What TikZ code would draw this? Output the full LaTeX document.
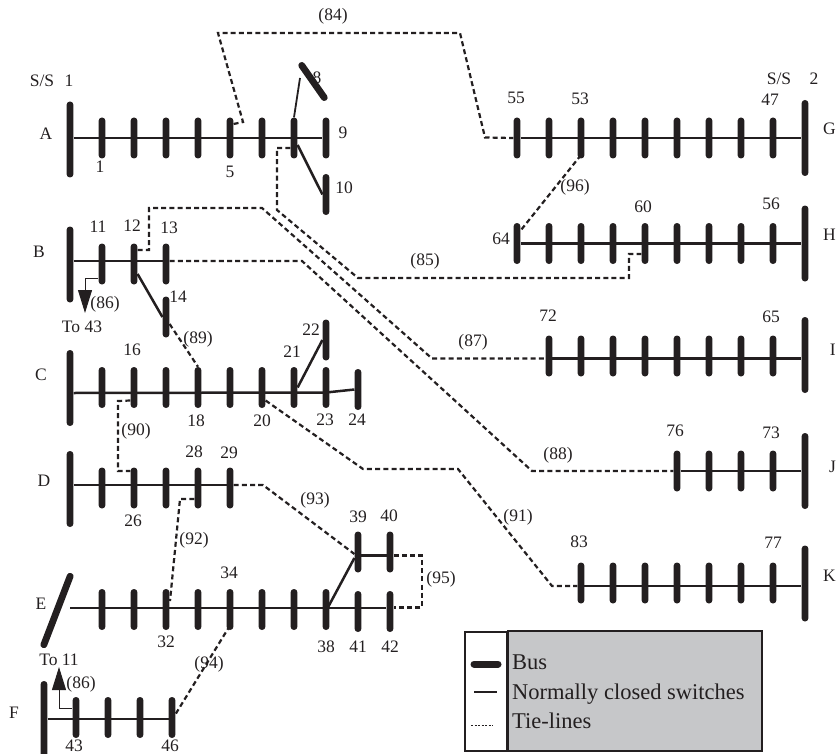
\documentclass[tikz,border=0pt]{standalone}
\usepackage{fontspec}
\setmainfont{Liberation Serif}
\usetikzlibrary{arrows.meta}
\definecolor{ink}{HTML}{231F20}
\definecolor{legendgrey}{HTML}{C6C7C9}
\begin{document}
\begin{tikzpicture}[x=1pt,y=-1pt,
  tick/.style={rectangle,fill=ink,inner sep=0pt,minimum width=6.8pt,minimum height=41pt,rounded corners=3.3pt},
  mainbus/.style={tick,minimum height=76pt},
  sw/.style={draw=ink,line width=2.5pt},
  tie/.style={draw=ink,line width=2.2pt,dash pattern=on 5pt off 3.2pt},
  lab/.style={text=ink,inner sep=0pt,font=\fontsize{17.5pt}{20pt}\selectfont},
  legtext/.style={text=ink,inner sep=0pt,anchor=base west,font=\fontsize{22.5pt}{26pt}\selectfont}]
\useasboundingbox (0,0) rectangle (837,754);

\foreach \f/\x/\y in {A/70/139.5,B/70/264.5,C/70/388,D/70/489,G/805/138,H/805/243.5,I/805/355,J/805/471,K/805/583.5,F/44/719}
  \node[mainbus] (m\f) at (\x,\y) {};
\node[mainbus,rotate=-21,minimum height=80pt] (mE) at (57,610.5) {};
\foreach \y/\list in {138/{1/102,2/134,3/166,4/198,5/230,6/262,7/294,9/326},
    138/{55/517,54/549,53/581,52/613,51/645,50/677,49/709,48/741,47/773},
    243.5/{64/517,63/549,62/581,61/613,60/645,59/677,58/709,57/741,56/773},
    356/{72/549,71/581,70/613,69/645,68/677,67/709,66/741,65/773},
    471/{76/677,75/709,74/741,73/773},
    583/{83/581,82/613,81/645,80/677,79/709,78/741,77/773},
    264/{11/102,12/134,13/166},
    387.5/{15/102,16/134,17/166,18/198,19/230,20/262,21/294,23/326},
    488/{25/102,26/134,27/166,28/198,29/230},
    609.5/{30/102,31/134,32/166,33/198,34/230,35/262,36/294,38/326},
    717.5/{43/76,44/108,45/140,46/172},
    194.5/{10/326}, 317/{14/166}, 340/{22/326}, 389.5/{24/358},
    552/{39/358,40/390}, 611.5/{41/358,42/390}}
  \foreach \n/\x in \list \node[tick] (n\n) at (\x,\y) {};
\node[tick,rotate=35,minimum height=46pt] (n8) at (313,81.5) {};
\coordinate (c8) at (300,78);

\draw[sw] (mA.east |- n1) -- (n9);
\draw[sw] (n55) -- (mG.west);
\draw[sw] (n64) -- (mH.west);
\draw[sw] ([yshift=-2.5pt]n72.center) -- ([yshift=-2.5pt]mI.west |- n72);
\draw[sw] (n76) -- (mJ.west);
\draw[sw] ([yshift=-3pt]n83.center) -- ([yshift=-3pt]mK.west |- n83);
\draw[sw] ([yshift=3pt]mB.east |- n11) -- ([yshift=3pt]n13.center);
\draw[sw] ([yshift=-5pt]mC.east) -- ([yshift=-5pt]n23.center) -- (n24.west);
\draw[sw] ([yshift=3pt]mD.east |- n25) -- ([yshift=3pt]n29.center);
\draw[sw] (70,608) -- (n42.west |- 0,608);
\draw[sw] (mF.east) -- ([yshift=-1.5pt]n46.center);
\draw[sw,line width=1.8pt] (n7.north) -- (c8);
\draw[sw] ([yshift=-7pt]n7.east) -- (n10.west);
\draw[sw] ([yshift=-10pt]n12.east) -- (n14.west);
\draw[sw] (n21.east) -- (n22.west);
\draw[sw] ([yshift=-1.5pt]n38.center) -- ([yshift=-6pt]n39.west);
\draw[sw] ([yshift=-3.5pt]n39.center) -- ([yshift=-3.5pt]n40.center);

\draw[tie] ([yshift=14pt]n5.east) -- (243,122) -- (218,33) -- (460,33) -- (485,137.5) -- (n55.west);
\draw[tie] ([yshift=-10pt]n7.west) -- (277,148) -- (277,210) -- (358,278) -- (629,278) -- (629,254) -- ([yshift=-10.5pt]n60.west);
\draw[tie] ([yshift=14pt]n12.east) -- (149,250) -- (149,208) -- (262,208) -- (432,358.5) -- ([yshift=-2.5pt]n72.west);
\draw[tie] ([yshift=3pt]n13.east) -- (302,261) -- (532,471) -- (n76.west);
\draw[tie] ([yshift=-7pt]n14.east) -- (n18.north);
\draw[tie] ([yshift=-13pt]n16.west) -- (118,401) -- (118,471) -- ([yshift=17pt]n26.west);
\draw[tie] ([yshift=-13pt]n20.east) -- (363,469) -- (458,469) -- (552,586) -- ([yshift=-3pt]n83.west);
\draw[tie] ([yshift=-11pt]n28.west) -- (180,499) -- (170,601);
\draw[tie] ([yshift=3pt]n29.east) -- (263,485) -- ([yshift=-2pt]n39.west);
\draw[tie] ([yshift=-16pt]n34.center) -- ([yshift=3.5pt]n46.east);
\draw[tie] ([yshift=-3.5pt]n40.east) -- (422,555.5) -- (422,607.5) -- ([yshift=4pt]n42.east);
\draw[tie] ([yshift=-17pt]n53.center) -- ([yshift=13pt]n64.east);

\draw[draw=ink,line width=1pt,-{Triangle[length=23pt,width=14pt]}] ([yshift=-14pt]n11.west) -- (85,278) -- (85,313);
\draw[draw=ink,line width=1pt,-{Triangle[length=23pt,width=14pt]}] ([yshift=9.5pt]n43.west) -- (59,708) -- (59,667);

\foreach \t/\x/\y in {1/100/167,5/230/172,8/317/78,9/343/133,10/344/188,11/98/227,12/132/226,13/169/228,14/178/297,
    16/132/350,18/196/421,20/262/421,21/292/352,22/311/330,23/325/420,24/357/420,26/133/521,28/194/452,29/229/453,
    32/166/642,34/229/573,38/326/647,39/358/517,40/389/516,41/358/647,42/390/647,43/74/746,46/170/746,
    47/770/100,53/580/99,55/516/98,56/771/204,60/643/207,64/501/239,65/771/317,72/548/316,73/771/433,76/675/431,77/773/543,83/579/542}
  \node[lab] (lab\t) at (\x,\y) {\t};
\foreach \t/\x/\y in {84/333/16,85/425/261,87/473/342,88/558/455,89/198/339,90/136/431,91/518/517,92/194/540,93/315/500,94/209/664,95/441/579,96/575/187}
  \node[lab] (tie\t) at (\x,\y) {(\t)};
\foreach \f/\x/\y in {A/46/134,B/39/252,C/41/375,D/44/481,E/41/604,F/14/713}
  \node[lab] (name\f) at (\x,\y) {\f};
\foreach \f/\x/\y in {G/836/129,H/836/235,I/836/350,J/836/467,K/836/576}
  \node[lab,anchor=east] (name\f) at (\x,\y) {\f};
\node[lab] (ssone) at (42,81) {S/S};
\node[lab] (ssonenum) at (69,81) {1};
\node[lab] (sstwo) at (779,79) {S/S};
\node[lab] (sstwonum) at (814,79) {2};
\node[lab] (tieb) at (105,304) {(86)};
\node[lab] (tief) at (81,684) {(86)};
\node[lab] (toforty) at (82,327) {To 43};
\node[lab] (toeleven) at (59,660) {To 11};

\draw[draw=ink,line width=1.3pt] (465,632) rectangle (507,751);
\draw[draw=ink,fill=legendgrey,line width=1.3pt] (508,631) rectangle (762,751);
\coordinate (keybusa) at (474,664); \coordinate (keybusb) at (498,664);
\coordinate (keyswa) at (474,692); \coordinate (keyswb) at (497,692);
\coordinate (keytiea) at (471,725); \coordinate (keytieb) at (493,725);
\draw[draw=ink,line width=7pt,line cap=round] (keybusa) -- (keybusb);
\draw[draw=ink,line width=1.8pt] (keyswa) -- (keyswb);
\draw[draw=ink,line width=1pt,dash pattern=on 2pt off 1.5pt] (keytiea) -- (keytieb);
\node[legtext] (legbus) at (512,669) {Bus};
\node[legtext] (legsw) at (512,699) {Normally closed switches};
\node[legtext] (legtie) at (512,728) {Tie-lines};
\end{tikzpicture}
\end{document}
